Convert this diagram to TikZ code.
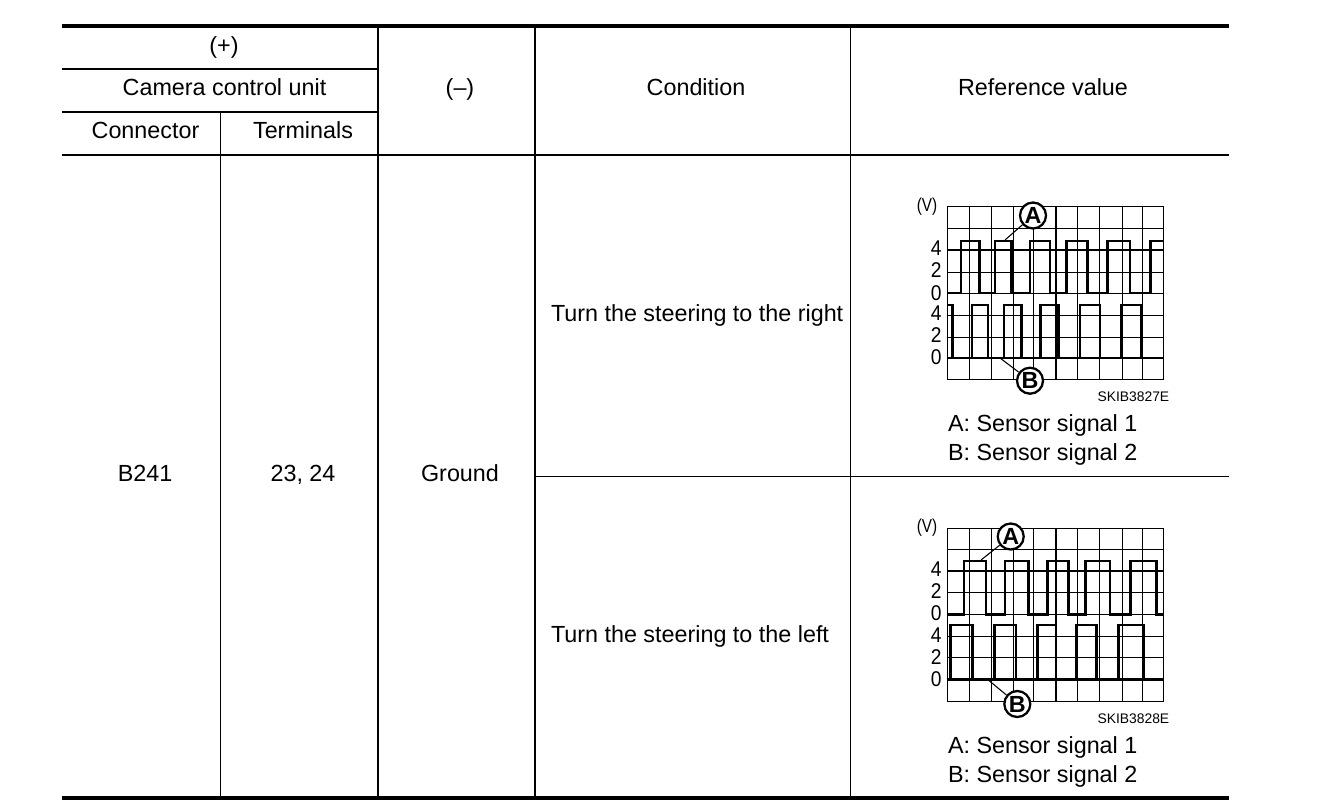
\documentclass[tikz,border=0pt]{standalone}
\usepackage{graphicx}
\usepackage{fontspec}
\setmainfont{Liberation Sans}
\newcommand{\vunit}{\scalebox{.82}[1]{(V)}}
\newcommand{\dgt}[1]{\scalebox{.9}[1]{#1}}
\tikzset{
  x=0.75pt,y=-0.75pt,
  txt/.style={anchor=base,inner sep=0pt,outer sep=0pt,font=\fontsize{17.5}{20}\selectfont,text=black},
  txtl/.style={txt,anchor=base west},
  tick/.style={anchor=base east,inner sep=0pt,font=\fontsize{16}{18}\selectfont},
  vlab/.style={anchor=base,inner sep=0pt,font=\fontsize{14}{16}\selectfont},
  code/.style={anchor=base east,inner sep=0pt,font=\fontsize{10.4}{12}\selectfont},
  heavy/.style={line width=3pt},
  medium/.style={line width=1.5pt},
  thin line/.style={line width=0.75pt},
  grid line/.style={line width=0.7pt},
  axis line/.style={line width=1.6pt},
  signal/.style={line width=1.9pt,line join=miter},
  callout/.style={circle,draw,line width=1.7pt,fill=white,minimum size=19.5pt,inner sep=0pt,font=\bfseries\fontsize{17.5}{18}\selectfont},
  leader/.style={line width=0.8pt},
}
\begin{document}
\begin{tikzpicture}
\useasboundingbox[fill=white] (0,0) rectangle (1328,804);
% table rules
\draw[heavy] (62,26) -- (1229,26);
\draw[heavy] (62,798) -- (1229,798);
\draw[medium] (62,69) -- (378,69);
\draw[medium] (62,112) -- (378,112);
\draw[medium] (62,155) -- (1229,155);
\draw[thin line] (535,476.5) -- (1229,476.5);
\draw[thin line] (220.5,112) -- (220.5,798);
\draw[medium] (378,26) -- (378,798);
\draw[medium] (535,26) -- (535,798);
\draw[thin line] (850.5,26) -- (850.5,798);
% header
\node[txt] (plus) at (224,53) {(+)};
\node[txt] (ccu) at (224.5,95) {Camera control unit};
\node[txt] (conn) at (145.5,138.5) {Connector};
\node[txt] (term) at (303,138.5) {Terminals};
\node[txt] (minus) at (460,95) {(–)};
\node[txt] (cond) at (696,95) {Condition};
\node[txt] (refv) at (1043,95) {Reference value};
% body
\node[txt] (b241) at (145,481) {B241};
\node[txt] (t2324) at (303,481) {23, 24};
\node[txt] (gnd) at (460,481) {Ground};
\node[txtl] (right) at (551,321) {Turn the steering to the right};
\node[txtl] (left) at (551,642) {Turn the steering to the left};
% chart 1 grid
\foreach \xx in {969.3,991.3,1013,1033,1077,1099,1122,1142}
  \draw[grid line] (\xx,206.5) -- (\xx,379.5);
\foreach \yy in {228,272,293,315,337}
  \draw[grid line] (947,\yy) -- (1163.5,\yy);
\draw[grid line] (947,206.5) rectangle (1163.5,379.5);
\draw[axis line] (1056,206.5) -- (1056,379.5);
\draw[axis line] (947,250) -- (1163.5,250);
\draw[signal] (947,293) -- (961,293) -- (961,241) -- (979.3,241) -- (979.3,293) -- (995,293) -- (995,241) -- (1011.7,241) -- (1011.7,293) -- (1030,293) -- (1030,241) -- (1050,241) -- (1050,293) -- (1066.7,293) -- (1066.7,241) -- (1087.3,241) -- (1087.3,293) -- (1107.3,293) -- (1107.3,241) -- (1130,241) -- (1130,293) -- (1150.7,293) -- (1150.7,241) -- (1163.5,241);
\draw[signal] (947,305) -- (952.7,305) -- (952.7,358) -- (972,358) -- (972,305) -- (988,305) -- (988,358) -- (1004,358) -- (1004,305) -- (1021.7,305) -- (1021.7,358) -- (1040.7,358) -- (1040.7,305) -- (1058.3,305) -- (1058.3,358) -- (1080,358) -- (1080,305) -- (1100,305) -- (1100,358) -- (1121.7,358) -- (1121.7,305) -- (1141.7,305) -- (1141.7,358) -- (1163.5,358);
\draw[signal] (947,358) -- (1163.5,358);
\coordinate (a1tip) at (1005,240);
\coordinate (b1tip) at (1000,358);
\node[callout] (a1) at (1033,215.5) {A};
\node[callout] (b1) at (1030,380.7) {B};
\draw[leader] (a1) -- (a1tip);
\draw[leader] (b1) -- (b1tip);
\node[vlab] (v1) at (927,211) {\vunit};
\node[tick] (t14) at (941.7,255) {\dgt{4}};
\node[tick] (t12) at (941.7,277.5) {\dgt{2}};
\node[tick] (t10) at (941.7,300) {\dgt{0}};
\node[tick] (t24) at (941.7,320.5) {\dgt{4}};
\node[tick] (t22) at (941.7,342.5) {\dgt{2}};
\node[tick] (t20) at (941.7,364) {\dgt{0}};
\node[code] (c1) at (1169.5,401) {SKIB3827E};
\node[txtl] (la1) at (948,431) {A: Sensor signal 1};
\node[txtl] (lb1) at (948,460.5) {B: Sensor signal 2};
% chart 2 grid
\foreach \xx in {969.3,991.3,1013,1033,1077,1099,1122,1142}
  \draw[grid line] (\xx,528.3) -- (\xx,701);
\foreach \yy in {549.3,592.7,614.3,636,657.3}
  \draw[grid line] (947,\yy) -- (1163.5,\yy);
\draw[grid line] (947,528.3) rectangle (1163.5,701);
\draw[axis line] (1056,528.3) -- (1056,701);
\draw[axis line] (947,571) -- (1163.5,571);
\draw[signal] (947,614.3) -- (964,614.3) -- (964,561) -- (986,561) -- (986,614.3) -- (1005,614.3) -- (1005,561) -- (1028.3,561) -- (1028.3,614.3) -- (1047.3,614.3) -- (1047.3,561) -- (1068.3,561) -- (1068.3,614.3) -- (1085.7,614.3) -- (1085.7,561) -- (1110,561) -- (1110,614.3) -- (1130.7,614.3) -- (1130.7,561) -- (1156.7,561) -- (1156.7,614.3) -- (1163.5,614.3);
\draw[signal] (947,679.3) -- (950.7,679.3) -- (950.7,625) -- (972.7,625) -- (972.7,679.3) -- (994.3,679.3) -- (994.3,625) -- (1016,625) -- (1016,679.3) -- (1037.3,679.3) -- (1037.3,625) -- (1056,625) -- (1056,679.3) -- (1076,679.3) -- (1076,625) -- (1096.7,625) -- (1096.7,679.3) -- (1118.3,679.3) -- (1118.3,625) -- (1143.3,625) -- (1143.3,679.3) -- (1163.5,679.3);
\draw[signal] (947,679.3) -- (1163.5,679.3);
\coordinate (a2tip) at (981,560);
\coordinate (b2tip) at (988.3,680);
\node[callout] (a2) at (1010.7,536.5) {A};
\node[callout] (b2) at (1017.3,704) {B};
\draw[leader] (a2) -- (a2tip);
\draw[leader] (b2) -- (b2tip);
\node[vlab] (v2) at (927,532.5) {\vunit};
\node[tick] (u14) at (941.7,576) {\dgt{4}};
\node[tick] (u12) at (941.7,598) {\dgt{2}};
\node[tick] (u10) at (941.7,620.5) {\dgt{0}};
\node[tick] (u24) at (941.7,642) {\dgt{4}};
\node[tick] (u22) at (941.7,664) {\dgt{2}};
\node[tick] (u20) at (941.7,686) {\dgt{0}};
\node[code] (c2) at (1169.5,723) {SKIB3828E};
\node[txtl] (la2) at (948,753) {A: Sensor signal 1};
\node[txtl] (lb2) at (948,782) {B: Sensor signal 2};
\end{tikzpicture}
\end{document}
